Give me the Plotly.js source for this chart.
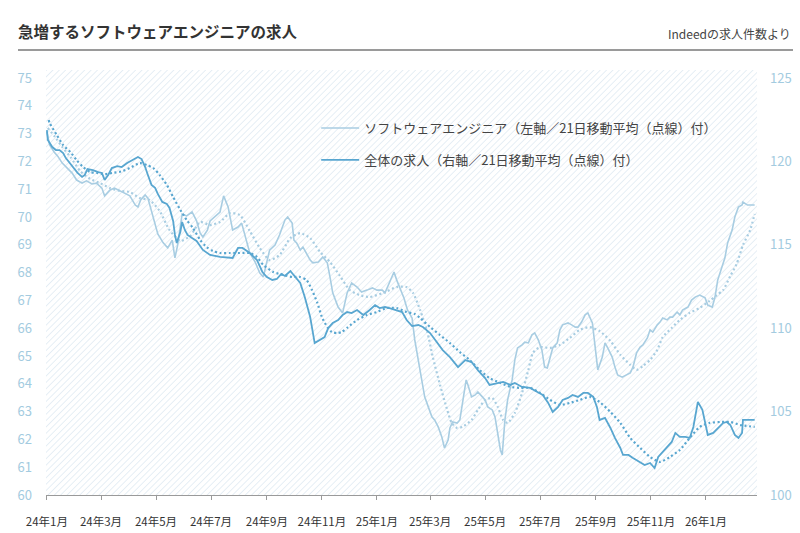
<!DOCTYPE html>
<html>
<head>
<meta charset="utf-8">
<script src="https://cdn.plot.ly/plotly-3.0.1.min.js"></script>
<style>
  html, body { margin: 0; padding: 0; background: #ffffff; }
  #chart { width: 800px; height: 533px; }
</style>
</head>
<body>
<div id="chart"></div>
<script>
// ソフトウェアエンジニアの求人指数（左軸）
const seDates = ['2024-01-01','2024-01-04','2024-01-09','2024-01-13','2024-01-18','2024-01-23','2024-01-29','2024-02-03','2024-02-09','2024-02-14','2024-02-20','2024-02-25','2024-03-02','2024-03-05','2024-03-11','2024-03-16','2024-03-22','2024-03-28','2024-04-02','2024-04-08','2024-04-11','2024-04-14','2024-04-19','2024-04-22','2024-04-26','2024-04-30','2024-05-03','2024-05-09','2024-05-14','2024-05-19','2024-05-22','2024-05-25','2024-05-30','2024-06-04','2024-06-10','2024-06-15','2024-06-19','2024-06-22','2024-06-27','2024-06-30','2024-07-05','2024-07-11','2024-07-15','2024-07-20','2024-07-25','2024-07-31','2024-08-04','2024-08-08','2024-08-13','2024-08-19','2024-08-24','2024-08-28','2024-09-01','2024-09-04','2024-09-10','2024-09-15','2024-09-21','2024-09-24','2024-09-29','2024-10-01','2024-10-04','2024-10-08','2024-10-11','2024-10-15','2024-10-19','2024-10-22','2024-10-28','2024-11-02','2024-11-07','2024-11-10','2024-11-13','2024-11-19','2024-11-24','2024-11-29','2024-12-04','2024-12-10','2024-12-15','2024-12-21','2024-12-27','2025-01-01','2025-01-07','2025-01-10','2025-01-13','2025-01-18','2025-01-20','2025-01-23','2025-01-27','2025-01-31','2025-02-04','2025-02-09','2025-02-12','2025-02-16','2025-02-20','2025-02-23','2025-02-27','2025-03-03','2025-03-06','2025-03-10','2025-03-14','2025-03-17','2025-03-21','2025-03-23','2025-03-26','2025-03-31','2025-04-03','2025-04-06','2025-04-10','2025-04-12','2025-04-16','2025-04-20','2025-04-23','2025-04-28','2025-05-01','2025-05-04','2025-05-09','2025-05-12','2025-05-15','2025-05-18','2025-05-20','2025-05-21','2025-05-23','2025-05-26','2025-05-31','2025-06-03','2025-06-06','2025-06-11','2025-06-14','2025-06-18','2025-06-22','2025-06-25','2025-06-29','2025-07-03','2025-07-06','2025-07-09','2025-07-12','2025-07-15','2025-07-20','2025-07-23','2025-07-26','2025-08-01','2025-08-05','2025-08-09','2025-08-12','2025-08-16','2025-08-20','2025-08-23','2025-08-28','2025-08-31','2025-09-03','2025-09-08','2025-09-11','2025-09-14','2025-09-19','2025-09-22','2025-09-25','2025-09-30','2025-10-05','2025-10-09','2025-10-12','2025-10-16','2025-10-20','2025-10-23','2025-10-28','2025-10-31','2025-11-03','2025-11-08','2025-11-11','2025-11-14','2025-11-19','2025-11-22','2025-11-25','2025-11-30','2025-12-03','2025-12-06','2025-12-12','2025-12-16','2025-12-20','2025-12-25','2025-12-31','2026-01-03','2026-01-08','2026-01-11','2026-01-14','2026-01-19','2026-01-22','2026-01-25','2026-01-30','2026-02-02','2026-02-06','2026-02-10','2026-02-11','2026-02-16','2026-02-24'];
const seValues = [73.06,72.59,72.34,72.19,71.94,71.76,71.58,71.33,71.22,71.30,71.19,71.22,71.04,70.76,70.97,71.04,70.94,70.86,70.76,70.43,70.36,70.61,70.79,70.68,70.18,69.71,69.39,69.07,68.89,69.17,68.53,68.99,70.11,70.04,70.18,69.86,69.42,69.28,69.53,69.86,70.00,70.18,70.76,70.36,69.53,69.64,69.78,69.28,68.71,68.38,67.99,67.84,68.35,68.81,68.99,69.35,69.89,70.00,69.78,69.17,69.07,68.81,68.92,68.71,68.45,68.35,68.38,68.56,68.35,67.84,67.27,66.76,66.55,67.27,67.63,67.48,67.30,67.37,67.45,67.37,67.37,67.27,67.48,67.84,68.02,67.73,67.37,67.09,66.65,66.37,65.58,64.86,64.14,63.53,63.17,62.81,62.70,62.45,62.09,61.69,61.98,62.41,62.63,62.59,62.70,63.31,64.14,63.96,63.53,63.60,63.71,63.53,63.42,63.17,63.06,62.81,62.23,61.62,61.44,61.98,62.70,63.42,64.14,64.86,65.29,65.40,65.50,65.47,65.76,65.83,65.58,65.22,64.60,64.57,64.96,65.29,65.47,65.94,66.12,66.19,66.12,66.04,66.04,66.22,66.48,66.55,66.19,65.40,64.50,64.96,65.47,65.29,64.96,64.60,64.32,64.24,64.32,64.39,64.60,65.11,65.32,65.40,65.65,65.94,65.86,66.12,66.22,66.37,66.30,66.40,66.40,66.58,66.48,66.65,66.76,67.01,67.12,67.19,67.09,66.83,66.76,67.12,67.73,68.20,68.53,69.07,69.53,70.00,70.36,70.43,70.54,70.43,70.43];

// ソフトウェアエンジニア 21日移動平均
const seMaDates = ['2024-01-02','2024-01-10','2024-01-18','2024-01-27','2024-02-07','2024-02-18','2024-02-29','2024-03-11','2024-03-22','2024-04-02','2024-04-13','2024-04-24','2024-05-05','2024-05-16','2024-05-28','2024-06-08','2024-06-19','2024-06-30','2024-07-11','2024-07-22','2024-08-02','2024-08-13','2024-08-24','2024-09-04','2024-09-15','2024-09-27','2024-10-08','2024-10-19','2024-10-30','2024-11-10','2024-11-21','2024-12-02','2024-12-13','2024-12-24','2025-01-08','2025-01-23','2025-02-03','2025-02-10','2025-02-18','2025-02-26','2025-03-04','2025-03-12','2025-03-20','2025-03-25','2025-03-31','2025-04-06','2025-04-16','2025-04-23','2025-05-01','2025-05-09','2025-05-15','2025-05-21','2025-05-26','2025-06-03','2025-06-11','2025-06-18','2025-06-23','2025-07-01','2025-07-12','2025-07-23','2025-08-03','2025-08-14','2025-08-25','2025-09-05','2025-09-17','2025-09-28','2025-10-09','2025-10-16','2025-10-23','2025-10-31','2025-11-08','2025-11-14','2025-11-24','2025-12-03','2025-12-14','2025-12-25','2026-01-05','2026-01-13','2026-01-20','2026-01-28','2026-02-04','2026-02-11','2026-02-19','2026-02-24'];
const seMaValues = [73.20,72.88,72.52,72.16,71.65,71.37,71.22,71.04,70.94,70.90,70.68,70.61,70.22,69.53,69.14,69.32,69.82,69.71,69.82,70.14,70.07,69.50,68.89,68.45,68.63,69.24,69.42,69.24,68.74,68.38,67.88,67.37,67.19,67.12,67.27,67.48,67.48,67.27,66.65,65.86,64.96,63.96,63.06,62.59,62.41,62.45,62.70,63.06,63.42,63.49,63.17,62.70,62.59,62.95,63.67,64.50,65.11,65.32,65.29,65.40,65.65,65.94,66.04,65.90,65.54,65.04,64.68,64.50,64.64,64.86,65.22,65.68,66.01,66.30,66.55,66.73,66.98,67.19,67.37,67.88,68.31,68.99,69.53,70.11];

// 全体の求人指数（右軸）
const totalDates = ['2024-01-01','2024-01-02','2024-01-07','2024-01-11','2024-01-15','2024-01-19','2024-01-22','2024-01-27','2024-01-31','2024-02-04','2024-02-09','2024-02-12','2024-02-15','2024-02-21','2024-02-27','2024-03-02','2024-03-05','2024-03-09','2024-03-13','2024-03-19','2024-03-24','2024-03-30','2024-04-05','2024-04-11','2024-04-15','2024-04-19','2024-04-22','2024-04-26','2024-04-30','2024-05-03','2024-05-08','2024-05-13','2024-05-16','2024-05-20','2024-05-22','2024-05-24','2024-05-28','2024-05-30','2024-06-02','2024-06-05','2024-06-10','2024-06-15','2024-06-22','2024-06-30','2024-07-11','2024-07-20','2024-07-25','2024-07-31','2024-08-05','2024-08-13','2024-08-21','2024-08-27','2024-09-01','2024-09-07','2024-09-12','2024-09-17','2024-09-21','2024-09-27','2024-10-02','2024-10-08','2024-10-13','2024-10-19','2024-10-24','2024-10-30','2024-11-04','2024-11-08','2024-11-13','2024-11-19','2024-11-24','2024-11-29','2024-12-04','2024-12-10','2024-12-17','2024-12-24','2024-12-30','2025-01-04','2025-01-10','2025-01-15','2025-01-23','2025-01-29','2025-02-03','2025-02-09','2025-02-16','2025-02-21','2025-03-01','2025-03-09','2025-03-15','2025-03-23','2025-04-01','2025-04-09','2025-04-16','2025-04-23','2025-05-01','2025-05-06','2025-05-14','2025-05-21','2025-05-29','2025-06-03','2025-06-11','2025-06-20','2025-06-28','2025-07-04','2025-07-10','2025-07-15','2025-07-21','2025-07-26','2025-08-01','2025-08-06','2025-08-12','2025-08-18','2025-08-23','2025-08-29','2025-09-02','2025-09-05','2025-09-11','2025-09-17','2025-09-22','2025-09-28','2025-10-01','2025-10-07','2025-10-12','2025-10-20','2025-10-25','2025-10-31','2025-11-05','2025-11-09','2025-11-13','2025-11-19','2025-11-24','2025-11-28','2025-12-03','2025-12-09','2025-12-14','2025-12-18','2025-12-22','2025-12-23','2025-12-28','2025-12-31','2026-01-03','2026-01-09','2026-01-14','2026-01-20','2026-01-24','2026-01-28','2026-02-02','2026-02-06','2026-02-10','2026-02-11','2026-02-17','2026-02-24'];
const totalValues = [121.88,121.28,120.86,120.68,120.68,120.50,120.20,119.84,119.60,119.31,119.07,119.19,119.54,119.48,119.36,119.31,118.89,119.19,119.60,119.72,119.66,119.90,120.08,120.26,120.14,119.66,119.19,118.59,118.41,118.05,117.57,117.45,117.21,116.43,115.59,115.11,115.77,116.37,115.89,115.59,115.41,115.23,114.69,114.39,114.27,114.21,114.21,114.81,114.81,114.51,114.09,113.37,113.07,112.89,112.95,113.25,113.13,113.43,113.07,112.71,111.87,110.67,109.11,109.29,109.47,110.01,110.31,110.49,110.79,110.97,110.91,111.09,110.79,111.09,111.39,111.21,111.27,111.21,111.09,110.97,110.49,110.13,110.19,110.07,109.71,109.11,108.69,108.27,107.67,108.09,107.97,107.49,107.01,106.60,106.72,106.78,106.60,106.72,106.48,106.42,106.18,106.00,105.52,104.98,105.28,105.70,105.82,106.00,105.88,106.12,106.12,105.88,105.28,104.50,104.62,104.02,103.42,102.82,102.40,102.40,102.22,101.98,101.80,101.92,101.62,102.28,102.52,102.82,103.18,103.72,103.48,103.48,103.42,104.08,105.28,105.58,105.10,104.32,103.60,103.72,104.02,104.32,104.38,104.20,103.60,103.42,103.72,104.50,104.50,104.50];

// 全体の求人 21日移動平均
const totalMaDates = ['2024-01-03','2024-01-04','2024-01-12','2024-01-19','2024-01-27','2024-02-03','2024-02-10','2024-02-18','2024-02-25','2024-03-05','2024-03-14','2024-03-25','2024-04-04','2024-04-13','2024-04-21','2024-04-28','2024-05-05','2024-05-13','2024-05-20','2024-05-28','2024-06-04','2024-06-11','2024-06-19','2024-06-26','2024-07-03','2024-07-11','2024-07-22','2024-08-02','2024-08-13','2024-08-21','2024-08-28','2024-09-08','2024-09-19','2024-09-29','2024-10-08','2024-10-15','2024-10-21','2024-10-27','2024-11-01','2024-11-07','2024-11-12','2024-11-18','2024-11-23','2024-11-30','2024-12-10','2024-12-21','2025-01-01','2025-01-12','2025-01-23','2025-02-03','2025-02-12','2025-02-18','2025-03-01','2025-03-12','2025-03-23','2025-04-03','2025-04-14','2025-04-25','2025-05-06','2025-05-18','2025-05-29','2025-06-09','2025-06-20','2025-07-01','2025-07-12','2025-07-23','2025-08-03','2025-08-14','2025-08-25','2025-09-05','2025-09-17','2025-09-28','2025-10-09','2025-10-20','2025-10-31','2025-11-11','2025-11-22','2025-12-03','2025-12-14','2025-12-25','2026-01-05','2026-01-17','2026-01-28','2026-02-08','2026-02-24'];
const totalMaValues = [122.48,122.30,121.58,120.98,120.56,120.08,119.66,119.36,119.31,119.24,119.31,119.42,119.66,119.90,119.78,119.60,119.19,118.59,117.87,117.09,116.49,116.01,115.29,114.87,114.63,114.51,114.51,114.51,114.51,114.27,113.79,113.37,113.19,113.07,113.07,112.89,112.29,111.51,110.67,110.07,109.77,109.71,109.77,110.07,110.49,110.79,110.97,111.21,111.21,110.97,110.85,110.61,110.07,109.59,109.11,108.57,108.09,107.49,107.01,106.72,106.48,106.42,106.42,106.12,105.70,105.40,105.52,105.70,105.88,105.58,104.98,104.32,103.42,102.82,102.28,101.98,102.28,102.70,103.42,104.08,104.32,104.38,104.38,104.20,104.08];

// 軸の目盛り
const xTickDates = ['2024-01-01','2024-03-01','2024-05-01','2024-07-01','2024-09-01','2024-11-01','2025-01-01','2025-03-01','2025-05-01','2025-07-01','2025-09-01','2025-11-01','2026-01-01'];
const xTickLabels = ['24年1月','24年3月','24年5月','24年7月','24年9月','24年11月','25年1月','25年3月','25年5月','25年7月','25年9月','25年11月','26年1月'];
const leftTicks = [60,61,62,63,64,65,66,67,68,69,70,71,72,73,74,75];
const rightTicks = [100,105,110,115,120,125];

const FONT = '"Noto Sans CJK JP", "Noto Sans", sans-serif';
const SE_COLOR = '#a8cde2';
const TOTAL_COLOR = '#58a6d0';

// 斜線の背景
const hatchSvg = "<svg xmlns='http://www.w3.org/2000/svg' width='711' height='425'>" +
  "<defs><pattern id='h' width='4.5' height='4.5' patternUnits='userSpaceOnUse' patternTransform='rotate(45)'>" +
  "<rect width='4.5' height='4.5' fill='#ffffff'/>" +
  "<line x1='0' y1='0' x2='0' y2='4.5' stroke='#dde9f1' stroke-width='1.4'/></pattern></defs>" +
  "<rect width='711' height='425' fill='url(#h)'/></svg>";
const hatchUri = 'data:image/svg+xml;charset=utf-8,' + encodeURIComponent(hatchSvg);

const traces = [
  {
    x: seDates, y: seValues, type: 'scatter', mode: 'lines',
    name: 'ソフトウェアエンジニア（左軸／21日移動平均（点線）付）',
    line: { color: SE_COLOR, width: 1.6 }, yaxis: 'y', legend: 'legend'
  },
  {
    x: seMaDates, y: seMaValues, type: 'scatter', mode: 'lines', showlegend: false,
    line: { color: SE_COLOR, width: 2.2, dash: '2px,2.6px', shape: 'spline', smoothing: 0.6 }, yaxis: 'y'
  },
  {
    x: totalDates, y: totalValues, type: 'scatter', mode: 'lines',
    name: '全体の求人（右軸／21日移動平均（点線）付）',
    line: { color: TOTAL_COLOR, width: 1.8 }, yaxis: 'y2', legend: 'legend2'
  },
  {
    x: totalMaDates, y: totalMaValues, type: 'scatter', mode: 'lines', showlegend: false,
    line: { color: TOTAL_COLOR, width: 2.2, dash: '2px,2.6px', shape: 'spline', smoothing: 0.6 }, yaxis: 'y2'
  }
];

const legendBase = {
  xref: 'paper', yref: 'paper', xanchor: 'left', yanchor: 'middle',
  bgcolor: 'rgba(0,0,0,0)', borderwidth: 0, itemwidth: 38,
  font: { family: FONT, size: 13, color: '#444444' }
};

const layout = {
  width: 800, height: 533,
  margin: { l: 46, r: 43, t: 70, b: 38 },
  paper_bgcolor: '#ffffff',
  plot_bgcolor: 'rgba(0,0,0,0)',
  font: { family: FONT },
  title: {
    text: '急増するソフトウェアエンジニアの求人',
    x: 18 / 800, xref: 'container', xanchor: 'left',
    y: 1 - 33 / 533, yref: 'container', yanchor: 'middle',
    font: { family: FONT, size: 15.5, color: '#333333', weight: 700 }
  },
  xaxis: {
    type: 'date',
    range: ['2023-12-31 00:00', '2026-02-26 14:00'],
    tickmode: 'array', tickvals: xTickDates, ticktext: xTickLabels,
    showline: true, linecolor: '#9a9a9a', linewidth: 1,
    ticks: 'outside', ticklen: 4, tickcolor: '#9a9a9a', tickwidth: 1,
    showgrid: false, zeroline: false, ticklabelstandoff: 12,
    tickfont: { family: FONT, size: 11.5, color: '#333333' }
  },
  yaxis: {
    range: [60, 75.288], tickmode: 'array', tickvals: leftTicks,
    showgrid: false, zeroline: false, showline: false, ticks: '',
    ticklabelstandoff: 13,
    tickfont: { family: FONT, size: 13, color: '#a3cbe0' }
  },
  yaxis2: {
    overlaying: 'y', side: 'right',
    range: [100, 125.48], tickmode: 'array', tickvals: rightTicks,
    showgrid: false, zeroline: false, showline: false, ticks: '',
    ticklabelstandoff: 12,
    tickfont: { family: FONT, size: 13, color: '#a3cbe0' }
  },
  legend: Object.assign({}, legendBase, { x: 0.38, y: (495 - 128) / 425 }),
  legend2: Object.assign({}, legendBase, { x: 0.38, y: (495 - 160) / 425 }),
  images: [{
    source: hatchUri, xref: 'paper', yref: 'paper',
    x: 0, y: 1, sizex: 1, sizey: 1, xanchor: 'left', yanchor: 'top',
    sizing: 'stretch', layer: 'below'
  }],
  shapes: [{
    type: 'line', xref: 'paper', yref: 'paper',
    x0: (18 - 46) / 711, x1: (793 - 46) / 711,
    y0: (495 - 50) / 425, y1: (495 - 50) / 425,
    line: { color: '#9a9a9a', width: 2 }
  }],
  annotations: [{
    text: 'Indeedの求人件数より', showarrow: false,
    xref: 'paper', yref: 'paper',
    x: (793 - 46) / 711, xanchor: 'right',
    y: (495 - 34) / 425, yanchor: 'middle',
    font: { family: FONT, size: 12, color: '#444444' }
  }]
};

Plotly.newPlot('chart', traces, layout, { displayModeBar: false, staticPlot: true });
</script>
</body>
</html>
